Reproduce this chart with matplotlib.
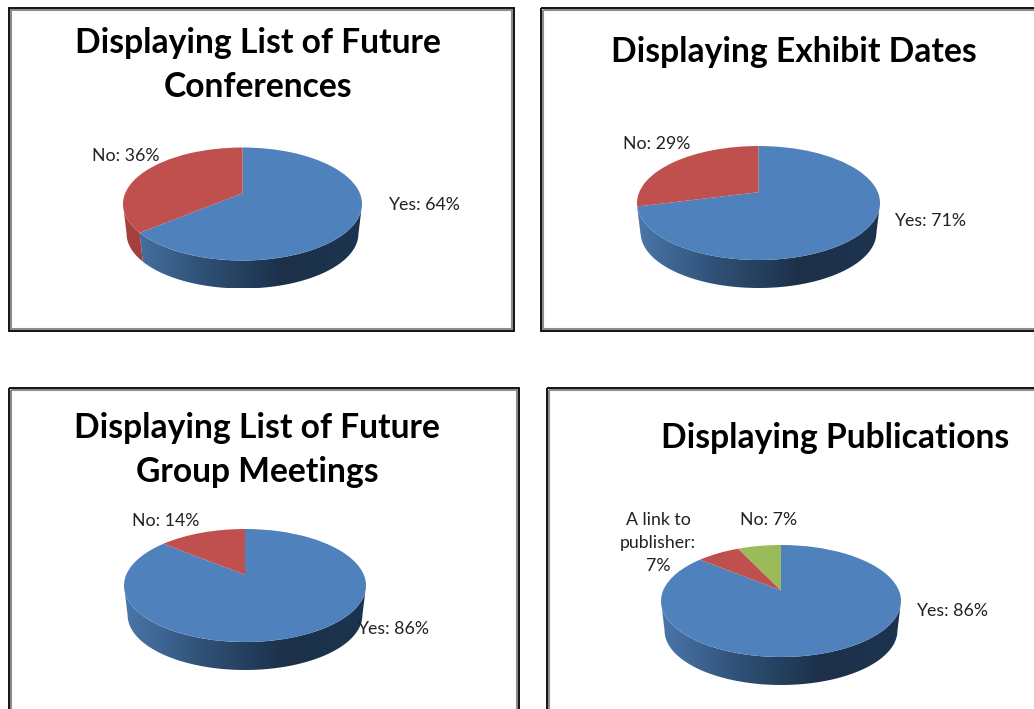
import numpy as np
import matplotlib
matplotlib.use('Agg')
import matplotlib.pyplot as plt
from matplotlib.colors import LinearSegmentedColormap
from matplotlib.patches import Polygon, Rectangle
from matplotlib.transforms import Transform

titles = ['Displaying List of Future\nConferences', 'Displaying Exhibit Dates',
          'Displaying List of Future\nGroup Meetings', 'Displaying Publications']
categories = [['Yes', 'No'], ['Yes', 'No'], ['Yes', 'No'], ['Yes', 'A link to\npublisher:\n', 'No']]
values = [[64, 36], [71, 29], [86, 14], [86, 7, 7]]

W, H = 1034, 709
P = 0.19  # how far the pie centre sits up because of the perspective
SHRINK = 0.97  # bottom edge of the wall is a bit smaller than the top face
WALL = {'#4f81bd': ['#4a76ab', '#2f5075', '#1c3049', '#1d3450'],
        '#c0504d': ['#a8413f', '#8f3836', '#6e2a28', '#6e2a28'],
        '#9bbb59': ['#7f9a48', '#5f7436', '#4c5d2b', '#4c5d2b']}

# pixel layout of each panel
frames = [(9, 8, 514, 331), (541, 8, 1060, 331), (9, 388, 519, 740), (547, 388, 1060, 740)]
pies = [(242.5, 204, 119.5, 56.5), (758.5, 203, 121.5, 57), (245, 585.5, 121, 56.5), (781, 601, 120, 56)]
depth = 28
title_xy = [(258, 65), (794, 50), (257, 450), (835, 436)]
label_xy = [[(388.5, 204), (92, 155)], [(894.5, 220), (623, 143)],
            [(357.5, 628), (132, 520)], [(916.5, 610), (658, 543), (740, 519)]]
slice_colors = [['#4f81bd', '#c0504d'], ['#4f81bd', '#c0504d'], ['#4f81bd', '#c0504d'],
                ['#4f81bd', '#c0504d', '#9bbb59']]


class Tilt(Transform):
    # maps the flat unit disc to the unit disc seen at an angle
    input_dims = 2
    output_dims = 2

    def transform_non_affine(self, xy):
        xy = np.asarray(xy, dtype=float)
        w = 1 + P * xy[:, 1]
        return np.column_stack([xy[:, 0] * np.sqrt(1 - P ** 2) / w,
                                xy[:, 1] * (1 - P ** 2) / w + P])


fig = plt.figure(figsize=(W / 100, H / 100), dpi=100)
tilt = Tilt()

for vals, cols, (cx, cy, rx, ry) in zip(values, slice_colors, pies):
    ax = fig.add_axes([(cx - rx) / W, 1 - (cy + ry + depth) / H, 2 * rx / W, (2 * ry + depth) / H])
    d = depth / ry
    wedges, _ = ax.pie(vals, startangle=90, counterclock=False, colors=cols,
                       wedgeprops={'linewidth': 0}, radius=1)
    for w in wedges:
        w.set_transform(tilt + ax.transData)
        w.set_clip_on(False)
        w.set_zorder(5)

    # side wall, one gradient for each slice that reaches the front
    start = 90.0
    for v, c in zip(vals, cols):
        end = start - v * 3.6
        th = np.radians(np.linspace(start, end, 300))
        pts = tilt.transform_non_affine(np.column_stack([np.cos(th), np.sin(th)]))
        pts = pts[pts[:, 1] < 0]
        if len(pts) > 1:
            low = pts * SHRINK - [0, d + (1 - SHRINK)]
            poly = Polygon(np.vstack([pts, low[::-1]]), transform=ax.transData, fc='none', ec='none')
            ax.add_patch(poly)
            cmap = LinearSegmentedColormap.from_list('wall', WALL[c])
            im = ax.imshow(np.linspace(0, 1, 256).reshape(1, -1), cmap=cmap, aspect='auto',
                           extent=(-1, 1, -1 - d, 1), zorder=2)
            im.set_clip_path(poly)
        start = end
    ax.set_aspect('auto')
    ax.set_xlim(-1, 1)
    ax.set_ylim(-1 - d, 1)
    ax.axis('off')

# frames and text go on one sheet in pixel coordinates
top = fig.add_axes([0, 0, 1, 1], zorder=10)
top.set_xlim(0, W)
top.set_ylim(H, 0)
top.axis('off')
top.patch.set_alpha(0)

for (x0, y0, x1, y1) in frames:
    top.add_patch(Rectangle((x0 + 2, y0 + 2), x1 - x0 - 4, y1 - y0 - 4, fc='none', ec='#8c8c8c', lw=1.5))
    top.add_patch(Rectangle((x0, y0), x1 - x0, y1 - y0, fc='none', ec='black', lw=1.3))

for t, (x, y) in zip(titles, title_xy):
    # single lines sit a little lower once the font is centred on its box
    top.text(x, y + (0 if '\n' in t else 2), t, ha='center', va='center', family='Lato', weight='bold',
             fontsize=24.2, linespacing=1.46, color='black')

for cats, vals, xy in zip(categories, values, label_xy):
    for cat, v, (x, y) in zip(cats, vals, xy):
        if '\n' in cat:
            top.text(x, y, f'{cat}{v}%', ha='center', va='center', family='Lato', fontsize=12.8,
                     linespacing=1.55, color='#222222')
        else:
            top.text(x, y + 1, f'{cat}: {v}%', ha='left', va='center', family='Lato', fontsize=12.8,
                     color='#222222')

fig.savefig('out.png', dpi=100)
